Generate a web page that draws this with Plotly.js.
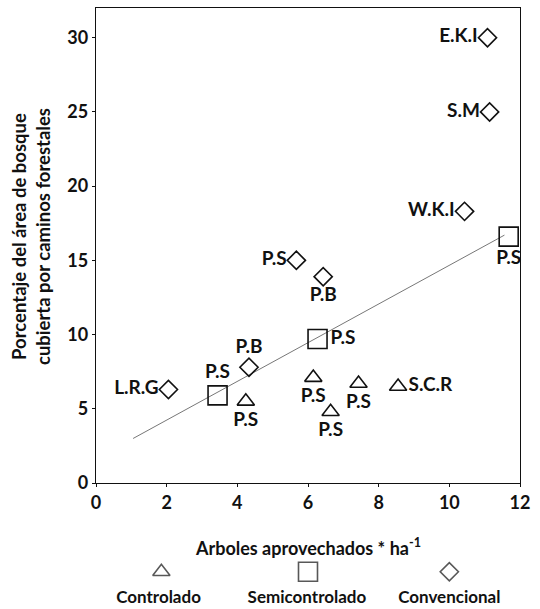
<!DOCTYPE html>
<html>
<head>
<meta charset="utf-8">
<script src="https://cdn.plot.ly/plotly-3.0.1.min.js"></script>
<style>html,body{margin:0;padding:0;background:#fff;}#chart{width:540px;height:609px;}</style>
</head>
<body>
<div id="chart"></div>
<script>
// Controlado (triangles)
const ctrlX = [4.24, 6.15, 6.64, 7.43, 8.55];
const ctrlY = [5.5, 7.1, 4.8, 6.7, 6.5];
const ctrlLabels = ["P.S", "P.S", "P.S", "P.S", "S.C.R"];
// Semicontrolado (squares)
const semiX = [3.44, 6.27, 11.68];
const semiY = [5.9, 9.7, 16.6];
const semiLabels = ["P.S", "P.S", "P.S"];
// Convencional (diamonds)
const convX = [11.08, 11.14, 10.43, 5.67, 6.43, 4.33, 2.05];
const convY = [30.0, 25.0, 18.3, 15.0, 13.9, 7.8, 6.3];
const convLabels = ["E.K.I", "S.M", "W.K.I", "P.S", "P.B", "P.B", "L.R.G"];
// Fitted line
const fitX = [1.05, 11.56];
const fitY = [3.0, 16.7];
// Legend
const legendNames = ["Controlado", "Semicontrolado", "Convencional"];
const xTicks = [0, 2, 4, 6, 8, 10, 12];
const yTicks = [0, 5, 10, 15, 20, 25, 30];

const FONT = "Lato, 'Open Sans', sans-serif";
const lblFont = {family: FONT, size: 19, color: "#111", weight: "bold"};

const traces = [
  {x: fitX, y: fitY, mode: "lines", line: {color: "#777", width: 1}, hoverinfo: "skip", showlegend: false},
  {x: ctrlX, y: ctrlY, mode: "markers+text", text: ctrlLabels,
   textposition: ["bottom center", "bottom center", "bottom center", "bottom center", "middle right"],
   textfont: lblFont, cliponaxis: false,
   marker: {symbol: "triangle-up-open", size: 15, color: "#111", line: {width: 1.6, color: "#111"}}, showlegend: false},
  {x: semiX, y: semiY, mode: "markers+text", text: semiLabels,
   textposition: ["top center", "middle right", "bottom center"],
   textfont: lblFont, cliponaxis: false,
   marker: {symbol: "square-open", size: 19, color: "#111", line: {width: 1.6, color: "#111"}}, showlegend: false},
  {x: convX, y: convY, mode: "markers+text", text: convLabels,
   textposition: ["middle left", "middle left", "middle left", "middle left", "bottom center", "top center", "middle left"],
   textfont: lblFont, cliponaxis: false,
   marker: {symbol: "diamond-open", size: 14, color: "#111", line: {width: 1.6, color: "#111"}}, showlegend: false},
  // legend symbols
  {x: [1.85, 6.0, 10.0], y: [0.31, 0.31, 0.31], xaxis: "x2", yaxis: "y2", mode: "markers",
   marker: {symbol: ["triangle-up-open", "square-open", "diamond-open"], size: [15, 19, 14], color: "#111", line: {width: 1.6, color: "#111"}},
   hoverinfo: "skip", showlegend: false, cliponaxis: false},
  {x: [1.77, 5.97, 10.0], y: [0.085, 0.085, 0.085], xaxis: "x2", yaxis: "y2", mode: "text",
   text: legendNames, textposition: "middle center",
   textfont: {family: FONT, size: 17, color: "#111", weight: "bold"},
   hoverinfo: "skip", showlegend: false, cliponaxis: false}
];

const H = 609, mt = 8, mb = 0;
const plotH = H - mt - mb;
const mainBottom = (H - mb - 483) / plotH;

const layout = {
  width: 540, height: 609,
  margin: {l: 96, r: 20, t: mt, b: mb},
  paper_bgcolor: "#fff", plot_bgcolor: "#fff",
  font: {family: FONT, color: "#111"},
  showlegend: false,
  xaxis: {range: [0, 12], tickvals: xTicks, ticks: "outside", ticklen: 3, tickcolor: "#111",
          showline: true, linecolor: "#111", linewidth: 1.2, mirror: true, showgrid: false, zeroline: false,
          tickfont: {family: FONT, size: 18, color: "#111", weight: "bold"}, domain: [0, 1]},
  yaxis: {range: [0, 32], tickvals: yTicks, ticks: "outside", ticklen: 3, tickcolor: "#111",
          showline: true, linecolor: "#111", linewidth: 1.2, mirror: true, showgrid: false, zeroline: false,
          tickfont: {family: FONT, size: 18, color: "#111", weight: "bold"}, domain: [mainBottom, 1]},
  xaxis2: {range: [0, 12], domain: [0, 1], anchor: "y2", visible: false, fixedrange: true},
  yaxis2: {range: [0, 1], domain: [0, 0.2], anchor: "x2", visible: false, fixedrange: true},
  annotations: [
    {text: "Arboles aprovechados * ha<sup>-1</sup>", xref: "paper", yref: "paper", x: 0.5, y: (H - mb - 547) / plotH,
     xanchor: "center", yanchor: "middle", showarrow: false,
     font: {family: FONT, size: 18, color: "#111", weight: "bold"}},
    {text: "Porcentaje del área de bosque<br>cubierta por caminos forestales", xref: "paper", yref: "paper",
     x: (31 - 96) / 424, y: (H - mb - 237) / plotH, xanchor: "center", yanchor: "middle", textangle: -90,
     showarrow: false, font: {family: FONT, size: 18.5, color: "#111", weight: "bold"}}
  ]
};

Plotly.newPlot("chart", traces, layout, {displayModeBar: false, staticPlot: true});
</script>
</body>
</html>
